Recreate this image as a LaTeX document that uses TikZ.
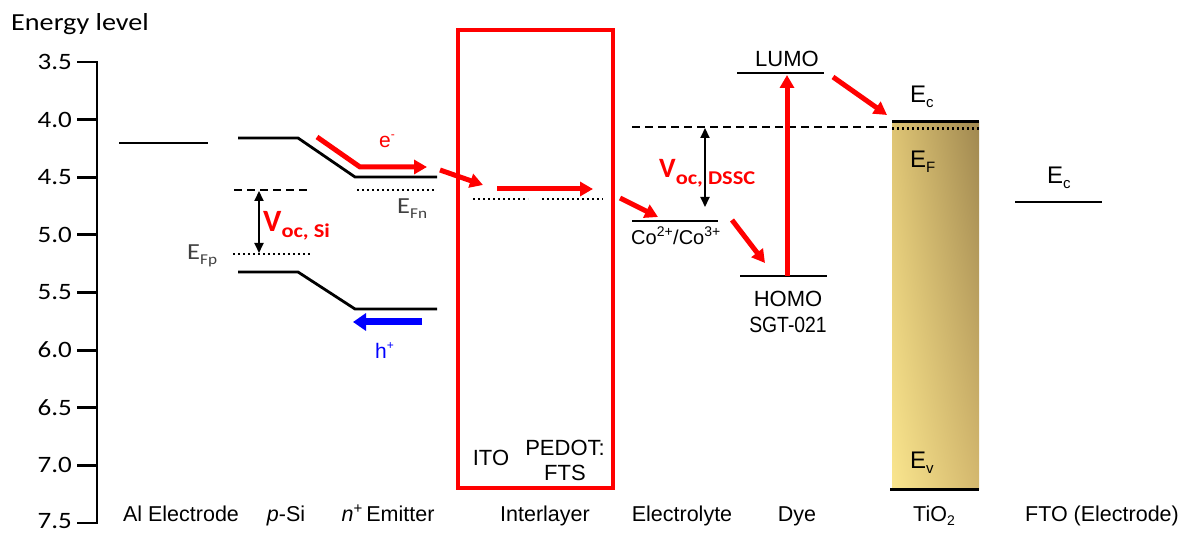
\documentclass[tikz,border=0pt]{standalone}
\usepackage{fontspec}
\setmainfont{Liberation Sans}
\newfontfamily\calib[FakeStretch=1.15]{Carlito}
\newfontfamily\calibv{Carlito}
\usetikzlibrary{arrows.meta,shadings}
\definecolor{pptred}{RGB}{255,0,0}
\definecolor{pptblue}{RGB}{0,0,255}
\definecolor{tioUL}{RGB}{222,196,116}
\definecolor{tioUR}{RGB}{160,136,80}
\definecolor{tioLL}{RGB}{249,229,142}
\definecolor{tioLR}{RGB}{212,184,110}
\newcommand\fsz[1]{\fontsize{#1}{#1}\selectfont}
\begin{document}
\begin{tikzpicture}[x=1pt,y=-1pt,
  lvl/.style={line width=2.8pt},
  dashlvl/.style={line width=2.2pt, dash pattern=on 8pt off 5pt},
  dotlvl/.style={line width=2.5pt, dash pattern=on 2.2pt off 2.8pt},
  redarr/.style={pptred, line width=5pt, -{Triangle[length=13pt,width=14pt]}},
  bluearr/.style={pptblue, line width=7pt, -{Triangle[length=13pt,width=17pt]}},
  dbl/.style={line width=2pt, {Triangle[length=10pt,width=9pt]}-{Triangle[length=10pt,width=9pt]}},
  lab/.style={inner sep=0pt, anchor=base, font=\fsz{22}},
  botlab/.style={inner sep=0pt, anchor=base, font=\fsz{21.5}},
  elab/.style={inner sep=0pt, anchor=base west},
]
\useasboundingbox (0,0) rectangle (1189,534);

% axis
\node[anchor=base west, inner sep=0pt, font=\calib\fsz{24.5}] (elabel) at (11,31) {Energy level};
\draw[line width=2.8pt] (77,62) -- (97,62) -- (97,523) -- (77,523);
\foreach \v [count=\i from 0] in {3.5,4.0,4.5,5.0,5.5,6.0,6.5,7.0,7.5}{
  \pgfmathsetmacro\yy{62+\i*57.625}
  \pgfmathsetmacro\by{min(\yy+7.5,528)}
  \draw[line width=2.8pt] (77,\yy) -- (97,\yy);
  \node[anchor=base east, inner sep=0pt, font=\calib\fsz{23.5}] (tick\i) at (72,\by) {\v};
}

% Al electrode
\coordinate (al1) at (119,143); \coordinate (al2) at (208,143);
\draw[lvl] (al1) -- (al2);

% p-Si / n+ emitter bands
\coordinate (cb1) at (238,138); \coordinate (cb2) at (298,138);
\coordinate (cb3) at (355,177); \coordinate (cb4) at (437,177);
\draw[lvl] (cb1) -- (cb2) -- (cb3) -- (cb4);
\coordinate (vb1) at (238,272); \coordinate (vb2) at (298,272);
\coordinate (vb3) at (355,309); \coordinate (vb4) at (437,309);
\draw[lvl] (vb1) -- (vb2) -- (vb3) -- (vb4);
\coordinate (qa) at (234,190); \coordinate (qb) at (308,190);
\draw[dashlvl] (qa) -- (qb);
\coordinate (fp1) at (233,254); \coordinate (fp2) at (312,254);
\draw[dotlvl] (fp1) -- (fp2);
\coordinate (fn1) at (357,190); \coordinate (fn2) at (435,190);
\draw[dotlvl] (fn1) -- (fn2);
\coordinate (vs1) at (259,191); \coordinate (vs2) at (259,253);
\draw[dbl] (vs1) -- (vs2);
\node[elab, text=pptred] (vocsi) at (263,232) {\calibv\bfseries\fsz{31}V\raisebox{-6pt}{\calib\fsz{19.5}oc, Si}};
\node[elab, text=black!75] (efp) at (187,260) {\calib\fsz{23}E\raisebox{-5pt}{\fsz{15}Fp}};
\node[elab, text=black!75] (efn) at (397,214) {\calib\fsz{23}E\raisebox{-5pt}{\fsz{15}Fn}};

% electron path
\coordinate (e1) at (317,137); \coordinate (e2) at (360,167); \coordinate (e3) at (427,167);
\draw[redarr] (e1) -- (e2) -- (e3);
\node[elab, text=pptred] (elec) at (379,148) {\fsz{21}e\raisebox{9pt}{\fsz{12}-}};
\coordinate (h1) at (422,322); \coordinate (h2) at (353,322);
\draw[bluearr] (h1) -- (h2);
\node[elab, text=pptblue] (hole) at (375,359) {\fsz{21}h\raisebox{9pt}{\fsz{12}+}};

% interlayer
\node[draw=pptred, line width=4pt, minimum width=155pt, minimum height=458pt, inner sep=0pt] (box) at (535.5,259) {};
\coordinate (i1) at (440,170); \coordinate (i2) at (483,185);
\draw[redarr] (i1) -- (i2);
\coordinate (i3) at (497,189); \coordinate (i4) at (593,189);
\draw[redarr] (i3) -- (i4);
\coordinate (ito1) at (473,199); \coordinate (ito2) at (528,199);
\draw[dotlvl] (ito1) -- (ito2);
\coordinate (pd1) at (542,199); \coordinate (pd2) at (603,199);
\draw[dotlvl] (pd1) -- (pd2);
\node[lab] (ito) at (491,465) {ITO};
\node[lab, align=center] (pedot) at (565,480) {PEDOT:\\[3pt]FTS};

% electrolyte
\coordinate (i5) at (620,198); \coordinate (i6) at (658,217);
\draw[redarr] (i5) -- (i6);
\coordinate (co1) at (632,221); \coordinate (co2) at (718,221);
\draw[lvl] (co1) -- (co2);
\node[lab, font=\fsz{20}] (colab) at (676,244.5) {Co\textsuperscript{2+}/Co\textsuperscript{3+}};
\coordinate (d1) at (632,127); \coordinate (d2) at (893,127);
\draw[dashlvl] (d1) -- (d2);
\coordinate (vd1) at (705,128); \coordinate (vd2) at (705,207);
\draw[dbl] (vd1) -- (vd2);
\node[elab, text=pptred] (vocd) at (659,178) {\calibv\bfseries\fsz{28}V\raisebox{-7pt}{\calib\fsz{19.5}oc, DSSC}};

% dye
\coordinate (c1) at (732,220); \coordinate (c2) at (765,263);
\draw[redarr] (c1) -- (c2);
\coordinate (ho1) at (740,276); \coordinate (ho2) at (827,276);
\draw[lvl] (ho1) -- (ho2);
\coordinate (lu1) at (737,73); \coordinate (lu2) at (824,73);
\draw[lvl] (lu1) -- (lu2);
\coordinate (up1) at (787,276); \coordinate (up2) at (787,75);
\draw[redarr] (up1) -- (up2);
\node[lab] (lumo) at (787,67) {LUMO};
\node[lab] (homo) at (788,307) {HOMO};
\node[lab] (sgt) at (788,333) {\scalebox{0.88}[1]{SGT-021}};
\coordinate (l1) at (833,77); \coordinate (l2) at (887,115);
\draw[redarr] (l1) -- (l2);

% TiO2
\shade[upper left=tioUL, upper right=tioUR, lower left=tioLL, lower right=tioLR] (892,122) rectangle (979,489);
\coordinate (t1) at (892,122); \coordinate (t2) at (979,122);
\draw[line width=3pt] (t1) -- (t2);
\coordinate (t3) at (892,128.5); \coordinate (t4) at (979,128.5);
\draw[dotlvl] (t3) -- (t4);
\coordinate (t5) at (890,489); \coordinate (t6) at (979,489);
\draw[line width=3pt] (t5) -- (t6);
\node[elab] (ec) at (910,103) {\fsz{24}E\raisebox{-5pt}{\fsz{15}c}};
\node[elab] (ef) at (910,168) {\fsz{24}E\raisebox{-5pt}{\fsz{15}F}};
\node[elab] (ev) at (910,468) {\fsz{24}E\raisebox{-5pt}{\fsz{15}v}};

% FTO
\coordinate (f1) at (1015,202); \coordinate (f2) at (1102,202);
\draw[lvl] (f1) -- (f2);
\node[elab] (fec) at (1047,184) {\fsz{24}E\raisebox{-5pt}{\fsz{15}c}};

% bottom labels
\node[botlab] (b1) at (181,521) {Al Electrode};
\node[botlab] (b2) at (286,521) {\textit{p}-Si};
\node[botlab] (b3) at (388,521) {\textit{n}\textsuperscript{+}\,Emitter};
\node[botlab] (b4) at (545,521) {Interlayer};
\node[botlab] (b5) at (682,521) {Electrolyte};
\node[botlab] (b6) at (797,521) {Dye};
\node[botlab] (b7) at (934,521) {TiO\raisebox{-4pt}{\fsz{14}2}};
\node[botlab] (b8) at (1102,521) {FTO (Electrode)};
\end{tikzpicture}
\end{document}
